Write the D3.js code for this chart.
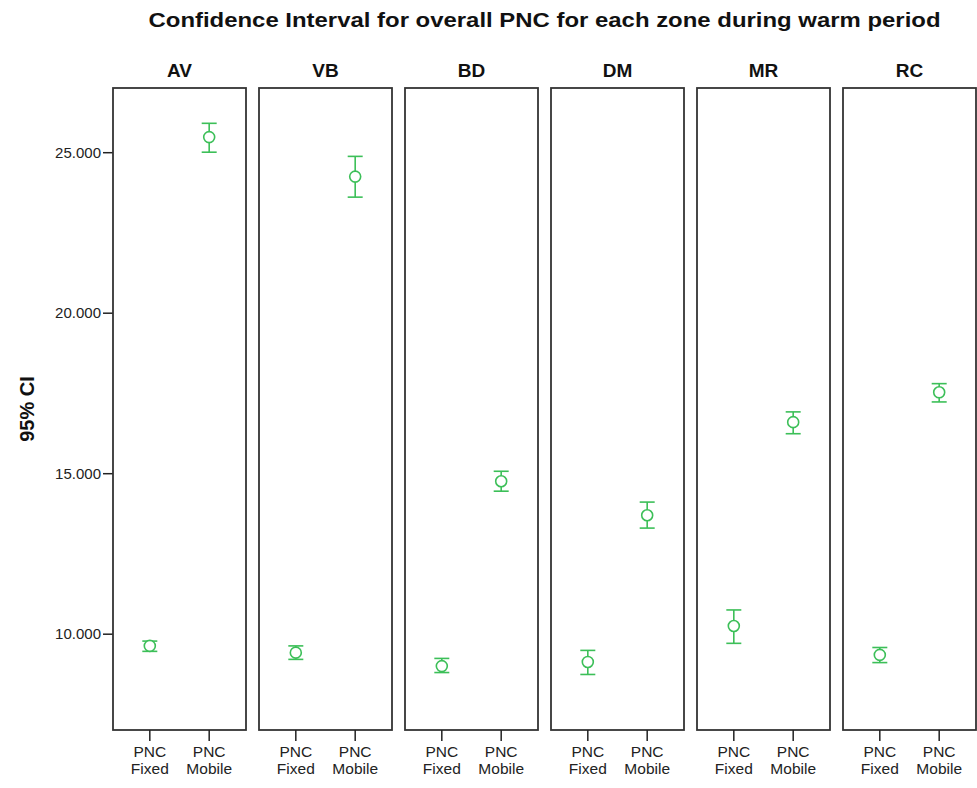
<!DOCTYPE html>
<html>
<head>
<meta charset="utf-8">
<script src="https://cdn.jsdelivr.net/npm/d3@7"></script>
<style>
  body { margin: 0; background: #fff; }
  svg { display: block; font-family: "Liberation Sans", Arial, sans-serif; }
</style>
</head>
<body>
<svg id="chart" width="977" height="788"></svg>
<script>
// zones (panels) and the two measurement types
const zones = ["AV", "VB", "BD", "DM", "MR", "RC"];
const types = ["PNC Fixed", "PNC Mobile"];

// mean and 95% CI bounds, per zone, order [Fixed, Mobile]
const means = [
    [9620, 25470],
    [9410, 24240],
    [8990, 14750],
    [9120, 13690],
    [10240, 16590],
    [9340, 17520]
];
const lower = [
    [9450, 25000],
    [9200, 23600],
    [8790, 14440],
    [8730, 13290],
    [9700, 16230],
    [9100, 17220]
];
const upper = [
    [9770, 25900],
    [9620, 24870],
    [9230, 15060],
    [9480, 14100],
    [10740, 16910],
    [9570, 17790]
];
const yTicks = [10000, 15000, 20000, 25000];

const svg = d3.select("#chart");
const m = { top: 88, left: 113, bottom: 730 };
const panelW = 133, gap = 13;
const green = "#3cbf58";

const y = d3.scaleLinear().domain([7000, 27000]).range([m.bottom, m.top]);

// title
svg.append("text")
    .attr("x", (m.left + 976) / 2).attr("y", 27)
    .attr("text-anchor", "middle")
    .attr("font-size", 20).attr("font-weight", "bold")
    .attr("fill", "#111")
    .attr("textLength", 792).attr("lengthAdjust", "spacingAndGlyphs")
    .text("Confidence Interval for overall PNC for each zone during warm period");

// y axis label
svg.append("text")
    .attr("transform", `translate(34,${(m.top + m.bottom) / 2}) rotate(-90)`)
    .attr("text-anchor", "middle")
    .attr("font-size", 20).attr("font-weight", "bold")
    .attr("fill", "#111")
    .text("95% CI");

// y axis
const yAxis = svg.append("g")
    .attr("transform", `translate(${m.left},0)`)
    .call(d3.axisLeft(y).tickValues(yTicks).tickSize(10).tickPadding(2)
        .tickFormat(d => (d / 1000).toFixed(3)));
yAxis.select(".domain").remove();
yAxis.selectAll("line").attr("stroke", "#222").attr("stroke-width", 1.5);
yAxis.selectAll("text").attr("font-size", 15).attr("fill", "#222")
    .attr("font-family", "Liberation Sans, Arial, sans-serif");

zones.forEach((zone, i) => {
    const x0 = m.left + i * (panelW + gap);
    const g = svg.append("g").attr("transform", `translate(${x0},0)`);
    const x = d3.scalePoint().domain(types).range([0, panelW]).padding(0.62);

    g.append("text")
        .attr("x", panelW / 2).attr("y", 77)
        .attr("text-anchor", "middle")
        .attr("font-size", 19).attr("font-weight", "bold")
        .attr("fill", "#111")
        .text(zone);

    g.append("rect")
        .attr("x", 0).attr("y", m.top)
        .attr("width", panelW).attr("height", m.bottom - m.top)
        .attr("fill", "none").attr("stroke", "#333").attr("stroke-width", 1.8);

    // x ticks and two-line labels
    types.forEach(t => {
        g.append("line")
            .attr("x1", x(t)).attr("x2", x(t))
            .attr("y1", m.bottom).attr("y2", m.bottom + 11)
            .attr("stroke", "#222").attr("stroke-width", 1.5);
        const parts = t.split(" ");
        const tx = g.append("text")
            .attr("x", x(t)).attr("y", m.bottom + 27)
            .attr("text-anchor", "middle")
            .attr("font-size", 15.5).attr("fill", "#222");
        parts.forEach((p, k) => {
            tx.append("tspan").attr("x", x(t)).attr("dy", k ? 17 : 0).text(p);
        });
    });

    // error bars
    types.forEach((t, j) => {
        const cx = x(t);
        const eb = g.append("g").attr("stroke", green).attr("stroke-width", 1.6).attr("fill", "none");
        eb.append("line").attr("x1", cx).attr("x2", cx)
            .attr("y1", y(lower[i][j])).attr("y2", y(upper[i][j]));
        [lower[i][j], upper[i][j]].forEach(v => {
            eb.append("line").attr("x1", cx - 7.5).attr("x2", cx + 7.5)
                .attr("y1", y(v)).attr("y2", y(v));
        });
        eb.append("circle").attr("cx", cx).attr("cy", y(means[i][j])).attr("r", 5.5)
            .attr("fill", "#fff");
    });
});
</script>
</body>
</html>
